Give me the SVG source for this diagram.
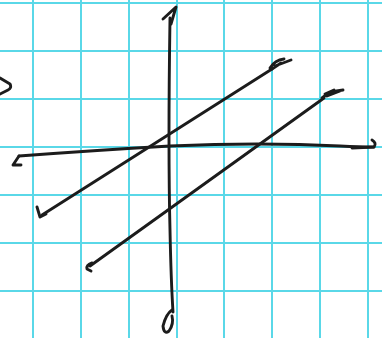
<svg xmlns="http://www.w3.org/2000/svg" width="382" height="338" viewBox="0 0 382 338">
<style>
.grid{stroke:#5ad8e8;stroke-width:2}
.ink{fill:none;stroke:#1c1c1c;stroke-width:2.9;stroke-linecap:round;stroke-linejoin:round}
</style>
<rect width="382" height="338" fill="#fff"/>
<g id="grid" class="grid">
<line x1="33" y1="0" x2="33" y2="338"/><line x1="81" y1="0" x2="81" y2="338"/>
<line x1="129" y1="0" x2="129" y2="338"/><line x1="177" y1="0" x2="177" y2="338"/>
<line x1="224" y1="0" x2="224" y2="338"/><line x1="272" y1="0" x2="272" y2="338"/>
<line x1="320" y1="0" x2="320" y2="338"/><line x1="368" y1="0" x2="368" y2="338"/>
<line x1="0" y1="3" x2="382" y2="3"/><line x1="0" y1="51" x2="382" y2="51"/>
<line x1="0" y1="99" x2="382" y2="99"/><line x1="0" y1="147" x2="382" y2="147"/>
<line x1="0" y1="195" x2="382" y2="195"/><line x1="0" y1="243" x2="382" y2="243"/>
<line x1="0" y1="291" x2="382" y2="291"/>
</g>
<g id="mark" class="ink"><path d="M0 78 L10 84 Q12 88 8 90 L0 94"/></g>
<g id="yaxis" class="ink">
<path d="M170 18 Q168 150 170 230 Q171 280 173 312"/>
<path d="M163 19 L176 7 L171 24"/>
<path d="M172 310 Q166 314 163 326 Q164 335 169 331 Q174 324 172 316"/>
</g>
<g id="xaxis" class="ink">
<path d="M19 156 Q100 150 170 146 Q260 142 340 146 Q360 147 374 147"/>
<path d="M19 156 L13 165 L21 165"/>
<path d="M352 148 L374 147 Q377 143 372 140"/>
</g>
<g id="line1" class="ink">
<path d="M42 215 L272 69"/>
<path d="M270 68 Q275 60 284 59 M275 66 L291 60 M272 69 L281 63"/>
<path d="M37 207 L40 217 L46 214"/>
</g>
<g id="line2" class="ink">
<path d="M90 266 L324 98"/>
<path d="M322 98 L330 92 L343 90 M325 94 L334 90 M327 96 L340 91"/>
<path d="M92 263 Q86 265 87 269 L91 271"/>
</g>
</svg>
